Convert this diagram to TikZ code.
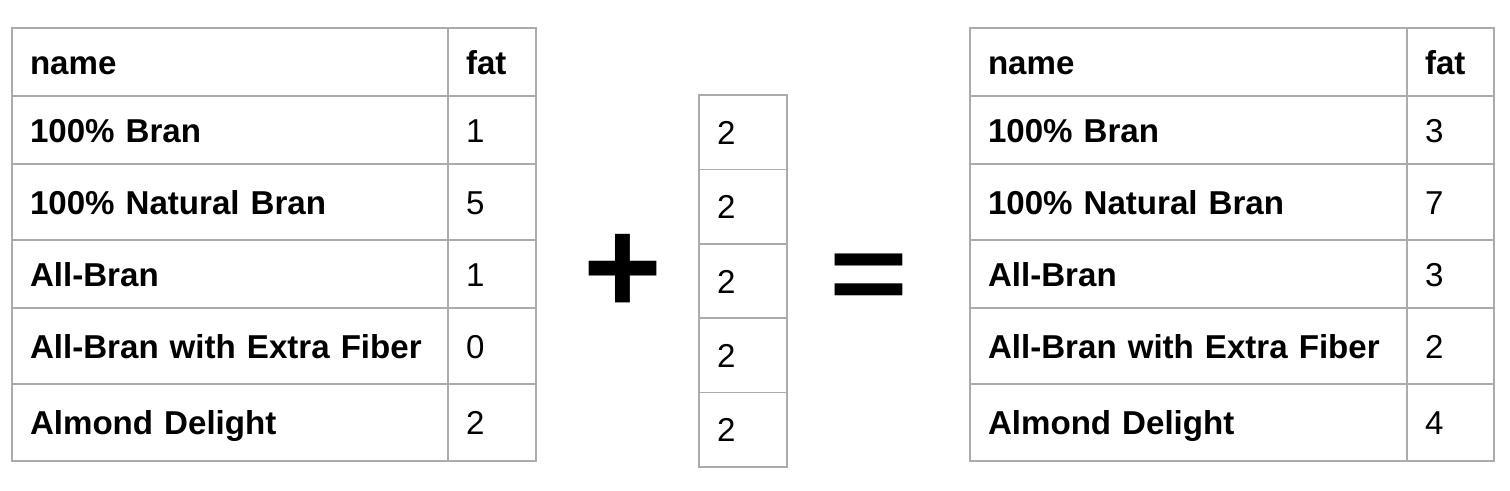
\documentclass[tikz,border=0pt]{standalone}
\usepackage{fontspec}
\setmainfont{Liberation Sans}
\usetikzlibrary{positioning}
\definecolor{linegray}{HTML}{ABABAB}
\tikzset{
  cellbox/.style={draw=linegray, line width=1.5pt, rectangle, inner ysep=0pt, inner xsep=18pt, outer sep=0pt,
    anchor=north west, text height=24pt, text depth=0pt, align=left,
    font=\fontsize{33.1pt}{40pt}\selectfont},
  headcell/.style={cellbox, font=\fontsize{33.1pt}{40pt}\selectfont\bfseries},
  bigsym/.style={inner sep=0pt, outer sep=0pt, font=\fontsize{135pt}{135pt}\selectfont\bfseries}
}
\begin{document}
\begin{tikzpicture}[x=1pt,y=-1pt]
\useasboundingbox (0,0) rectangle (1510,490);
% ---------- left table ----------
\node[headcell, text width=400pt, minimum height=68pt] (LN0) at (12,28) {name};
\node[headcell, text width=52pt,  minimum height=68pt] (LF0) at (448,28) {fat};
\node[headcell, text width=400pt, minimum height=68pt] (LN1) at (12,96) {100\% Bran};
\node[cellbox,  text width=52pt,  minimum height=68pt] (LF1) at (448,96) {1};
\node[headcell, text width=400pt, minimum height=76pt] (LN2) at (12,164) {100\% Natural Bran};
\node[cellbox,  text width=52pt,  minimum height=76pt] (LF2) at (448,164) {5};
\node[headcell, text width=400pt, minimum height=68pt] (LN3) at (12,240) {All-Bran};
\node[cellbox,  text width=52pt,  minimum height=68pt] (LF3) at (448,240) {1};
\node[headcell, text width=400pt, minimum height=76pt] (LN4) at (12,308) {All-Bran with Extra Fiber};
\node[cellbox,  text width=52pt,  minimum height=76pt] (LF4) at (448,308) {0};
\node[headcell, text width=400pt, minimum height=77pt] (LN5) at (12,384) {Almond Delight};
\node[cellbox,  text width=52pt,  minimum height=77pt] (LF5) at (448,384) {2};
% ---------- plus ----------
\node[bigsym] (plus) at (623,274) {+};
% ---------- middle column ----------
\node[cellbox, text width=52pt, minimum height=74.4pt] (M1) at (699,95) {2};
\node[cellbox, text width=52pt, minimum height=74.4pt] (M2) at (699,169.4) {2};
\node[cellbox, text width=52pt, minimum height=74.4pt] (M3) at (699,243.8) {2};
\node[cellbox, text width=52pt, minimum height=74.4pt] (M4) at (699,318.2) {2};
\node[cellbox, text width=52pt, minimum height=74.4pt] (M5) at (699,392.6) {2};
% ---------- equals ----------
\node[bigsym] (equals) at (869,283) {\scalebox{1}[0.82]{=}};
% ---------- right table ----------
\node[headcell, text width=401pt, minimum height=68pt] (RN0) at (970,28) {name};
\node[headcell, text width=51pt,  minimum height=68pt] (RF0) at (1407,28) {fat};
\node[headcell, text width=401pt, minimum height=68pt] (RN1) at (970,96) {100\% Bran};
\node[cellbox,  text width=51pt,  minimum height=68pt] (RF1) at (1407,96) {3};
\node[headcell, text width=401pt, minimum height=76pt] (RN2) at (970,164) {100\% Natural Bran};
\node[cellbox,  text width=51pt,  minimum height=76pt] (RF2) at (1407,164) {7};
\node[headcell, text width=401pt, minimum height=68pt] (RN3) at (970,240) {All-Bran};
\node[cellbox,  text width=51pt,  minimum height=68pt] (RF3) at (1407,240) {3};
\node[headcell, text width=401pt, minimum height=76pt] (RN4) at (970,308) {All-Bran with Extra Fiber};
\node[cellbox,  text width=51pt,  minimum height=76pt] (RF4) at (1407,308) {2};
\node[headcell, text width=401pt, minimum height=77pt] (RN5) at (970,384) {Almond Delight};
\node[cellbox,  text width=51pt,  minimum height=77pt] (RF5) at (1407,384) {4};
\end{tikzpicture}
\end{document}
